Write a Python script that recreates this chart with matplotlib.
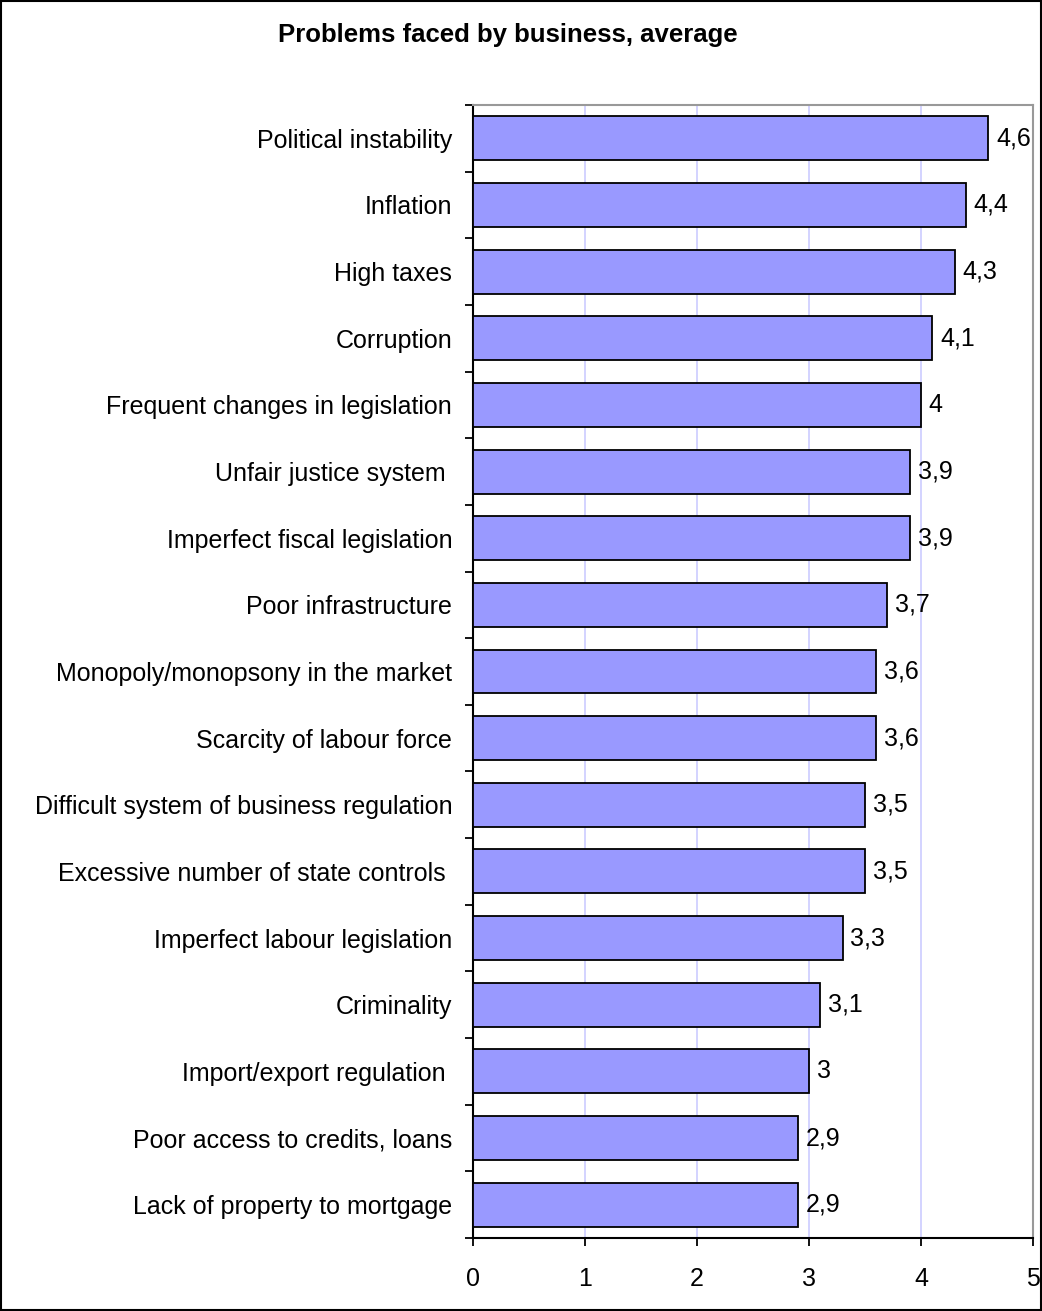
import matplotlib.pyplot as plt
from matplotlib.patches import Rectangle

plt.rcParams['font.family'] = ['Liberation Sans', 'DejaVu Sans']

# Problems faced by business (average score)
problems = [
    "Political instability",
    "Inflation",
    "High taxes",
    "Corruption",
    "Frequent changes in legislation",
    "Unfair justice system ",
    "Imperfect fiscal legislation",
    "Poor infrastructure",
    "Monopoly/monopsony in the market",
    "Scarcity of labour force",
    "Difficult system of business regulation",
    "Excessive number of state controls ",
    "Imperfect labour legislation",
    "Criminality",
    "Import/export regulation ",
    "Poor access to credits, loans",
    "Lack of property to mortgage",
]
scores = [4.6, 4.4, 4.3, 4.1, 4.0, 3.9, 3.9, 3.7, 3.6, 3.6, 3.5, 3.5, 3.3, 3.1, 3.0, 2.9, 2.9]

fig = plt.figure(figsize=(10.42, 13.11), dpi=100)
ax = fig.add_axes([0.4539, 0.0557, 0.5375, 0.8642])

y = list(range(len(problems)))
ax.barh(y, scores, height=0.66, color='#9999FF', edgecolor='black', linewidth=1.3, zorder=3)

for yi, v in zip(y, scores):
    txt = f"{v:g}".replace('.', ',')
    ax.text(v + 0.07, yi, txt, va='center', ha='left', fontsize=18, zorder=4)

ax.set_xlim(0, 5)
ax.set_ylim(len(problems) - 0.5, -0.5)
ax.set_xticks(range(6))
ax.set_xticklabels([str(i) for i in range(6)], fontsize=18)
ax.tick_params(axis='x', length=6, width=1.3, pad=15, direction='out')

# category labels centred on bars, ticks at boundaries
ax.set_yticks(y)
ax.set_yticklabels(problems, fontsize=18)
ax.tick_params(axis='y', length=0, pad=15)
ax.set_yticks([i - 0.5 for i in range(len(problems) + 1)], minor=True)
ax.tick_params(axis='y', which='minor', length=6, width=1.3, direction='out')

ax.grid(axis='x', color='#CCCCFF', linewidth=1.2, zorder=0)
ax.set_axisbelow(True)

for s in ['left', 'bottom']:
    ax.spines[s].set_linewidth(1.5)
    ax.spines[s].set_color('black')
for s in ['top', 'right']:
    ax.spines[s].set_linewidth(1.5)
    ax.spines[s].set_color('#999999')

fig.text(0.487, 0.973, "Problems faced by business, average", ha='center', va='center',
         fontsize=18.5, fontweight='bold')

fig.patches.append(Rectangle((0.001, 0.001), 0.998, 0.998, transform=fig.transFigure,
                             fill=False, edgecolor='black', linewidth=1.5))

fig.savefig("out.png", dpi=100)
